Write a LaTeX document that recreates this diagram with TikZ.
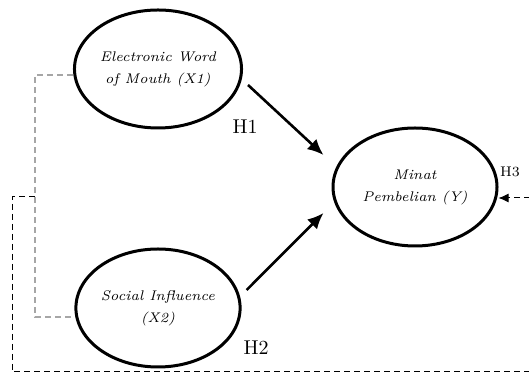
\documentclass[tikz,border=0pt]{standalone}
\usepackage{tikz}
\usetikzlibrary{positioning, arrows, arrows.meta, shapes.geometric}

\begin{document}
\begin{tikzpicture}[x=0.5pt, y=-0.5pt,
  latent/.style={ellipse, draw, line width=1.5pt, inner sep=0.5pt, minimum width=82pt, minimum height=59pt, align=center, font=\scriptsize\itshape},
  hyp/.style={-{Latex[length=8pt,width=7pt]}, line width=1.3pt},
  corr/.style={draw=gray!70, dashed, dash pattern=on 3pt off 2pt, line width=0.9pt},
  link/.style={dashed, dash pattern=on 3pt off 2pt, line width=0.5pt, -{Latex[length=5pt,width=4.5pt]}}]
\clip (0,0) rectangle (529,383);
% constructs
\node[latent] (ewom) at (158,69) {Electronic Word\\[3pt]of Mouth (X1)};
\node[latent] (social) at (158,308) {Social Influence\\[3pt](X2)};
\node[latent] (minat) at (415,187) {Minat\\[3pt]Pembelian (Y)};
% hypotheses
\draw[hyp] ([shift={(5,16)}]ewom.east) -- ([shift={(-8,-32)}]minat.west);
\draw[hyp] ([shift={(5,-18)}]social.east) -- ([shift={(-8,26)}]minat.west);
\node at (245,127) {H1};
\node at (256,348) {H2};
\node[font=\scriptsize] at (510,172) {H3};
% joint effect
\draw[corr] ([shift={(0,6)}]ewom.west) -- ++(-38,0) |- ([shift={(0,9)}]social.west);
\coordinate (c3) at (35,197);
\draw[link] (c3) -- ++(-23,0) |- (545,372) |- ([shift={(0,11)}]minat.east);
\end{tikzpicture}
\end{document}
